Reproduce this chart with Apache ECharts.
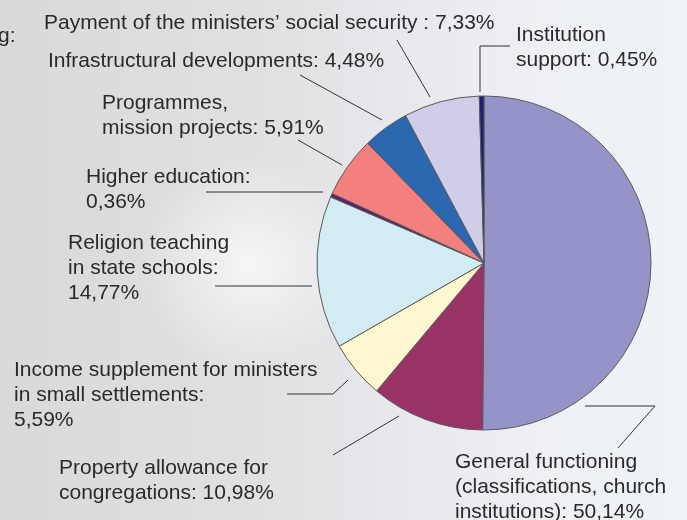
<!DOCTYPE html>
<html>
<head>
<meta charset="utf-8">
<script src="https://cdn.jsdelivr.net/npm/echarts@6/dist/echarts.min.js"></script>
<style>html,body{margin:0;padding:0;}#c{width:687px;height:520px;}</style>
</head>
<body>
<div id="c"></div>
<script>
const categories = [
  'General functioning (classifications, church institutions)',
  'Property allowance for congregations',
  'Income supplement for ministers in small settlements',
  'Religion teaching in state schools',
  'Higher education',
  'Programmes, mission projects',
  'Infrastructural developments',
  "Payment of the ministers' social security",
  'Institution support'
];
const values = [50.14, 10.98, 5.59, 14.77, 0.36, 5.91, 4.48, 7.33, 0.45];
const labelTexts = [
  'General functioning\n(classifications, church\ninstitutions): 50,14%',
  'Property allowance for\ncongregations: 10,98%',
  'Income supplement for ministers\nin small settlements:\n5,59%',
  'Religion teaching\nin state schools:\n14,77%',
  'Higher education:\n0,36%',
  'Programmes,\nmission projects: 5,91%',
  'Infrastructural developments: 4,48%',
  "Payment of the ministers\u2019 social security : 7,33%",
  'Institution\nsupport: 0,45%'
];
const colors = ['#9494c8', '#993366', '#fcf7cf', '#d3ecf4', '#5a2070', '#f47f7f', '#2c68b0', '#cfcde8', '#1f1f70'];

// layout (label anchors, leader lines)
const LH = 25;
const FONT = '"Liberation Sans", Arial, sans-serif';
const labelAnchor = [
  [455, 462], [59, 468], [14, 370], [68, 243], [86, 177], [102, 103], [48, 61], [44, 23], [516, 35]
];
const linePts = [
  [[585,406],[655,406],[618,448]],
  [[399,416],[399,416],[333,455]],
  [[348,380],[333,394],[287,394]],
  [[312,286],[312,286],[215,286]],
  [[323,192],[323,192],[206,192]],
  [[342,165],[342,165],[298,140]],
  [[382,120],[382,120],[300,75]],
  [[430,97],[430,97],[397,40]],
  [[480,92],[480,46],[510,46]]
];

const chart = echarts.init(document.getElementById('c'), null, {renderer: 'canvas'});
chart.setOption({
  backgroundColor: {
    type: 'linear', x: 0, y: 0, x2: 1, y2: 0,
    colorStops: [
      {offset: 0, color: '#d9d9da'},
      {offset: 0.4, color: '#e1e1e3'},
      {offset: 0.62, color: '#e9eaee'},
      {offset: 0.8, color: '#eef0f5'},
      {offset: 1, color: '#eff2f7'}
    ]
  },
  animation: false,
  graphic: [
    {
      type: 'circle', silent: true, z: -1,
      shape: {cx: 250, cy: 265, r: 110},
      style: {
        fill: {
          type: 'radial', x: 0.5, y: 0.5, r: 0.5,
          colorStops: [{offset: 0, color: 'rgba(255,255,255,0.7)'}, {offset: 1, color: 'rgba(255,255,255,0)'}]
        }
      }
    },
    {
      type: 'text', left: -2, top: 26,
      style: {text: 'g:', font: '21px ' + FONT, fill: '#2a2a2a'}
    }
  ],
  series: [{
    type: 'pie',
    center: [484, 263],
    radius: 167,
    startAngle: 90,
    clockwise: true,
    avoidLabelOverlap: false,
    data: categories.map((c, i) => ({
      name: c, value: values[i], itemStyle: {color: colors[i]},
      label: {formatter: labelTexts[i]}
    })),
    itemStyle: {borderColor: '#5a5a5a', borderWidth: 1},
    label: {
      show: true,
      position: 'outside',
      color: '#2a2a2a',
      fontFamily: FONT,
      fontSize: 21,
      lineHeight: LH
    },
    labelLine: {show: true, lineStyle: {color: '#333', width: 1}},
    emphasis: {disabled: true},
    labelLayout: function (params) {
      const i = params.dataIndex;
      return {
        x: labelAnchor[i][0],
        y: labelAnchor[i][1] - LH / 2,
        align: 'left',
        verticalAlign: 'top',
        labelLinePoints: linePts[i]
      };
    }
  }]
});
</script>
</body>
</html>
